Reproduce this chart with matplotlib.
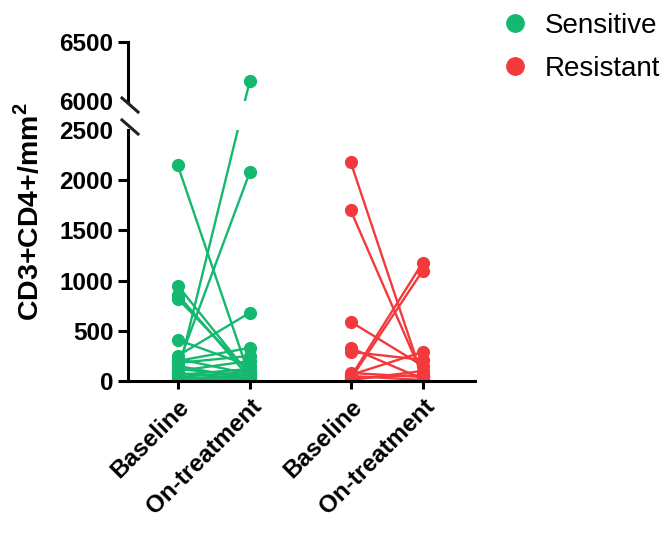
import matplotlib
matplotlib.use("Agg")
import matplotlib.pyplot as plt
from matplotlib.lines import Line2D

plt.rcParams['font.family'] = ['Liberation Sans', 'DejaVu Sans']
plt.rcParams['mathtext.fontset'] = 'custom'
plt.rcParams['mathtext.bf'] = 'Liberation Sans:bold'
plt.rcParams['mathtext.rm'] = 'Liberation Sans:bold'

categories = ["Baseline", "On-treatment", "Baseline", "On-treatment"]
xpos = [0, 1, 2.4, 3.4]

# paired values (baseline, on-treatment)
sens_base = [2150, 950, 860, 820, 410, 150, 60, 250, 200, 180, 120, 100, 80, 60, 40, 30, 20, 10, 150, 220]
sens_on = [40, 60, 30, 80, 150, 2080, 6170, 680, 330, 250, 50, 200, 20, 120, 90, 10, 60, 30, 20, 70]
res_base = [2180, 1700, 590, 330, 290, 40, 20, 60, 10, 30, 50, 80]
res_on = [30, 50, 150, 20, 210, 1180, 1100, 290, 100, 60, 10, 40]

green = '#14B86E'
red = '#F23A3D'

# broken axis: 0-2500 below, 6000-6500 above (upper part drawn a bit stretched)
LO_TOP = 2500
HI_START, HI_END = 6000, 6500
HI_OFFSET = 2789
HI_STRETCH = 1.174


def brk(v):
    if v <= LO_TOP:
        return v
    return HI_OFFSET + (v - HI_START) * HI_STRETCH


W, H = 669, 534
fig = plt.figure(figsize=(W / 100, H / 100), dpi=100)


def fx(px):
    return px / W


def fy(py):
    return 1 - py / H


left, right = 128, 475
ax_lo = fig.add_axes([fx(left), fy(381), fx(right - left), fy(130) - fy(381)])
ax_hi = fig.add_axes([fx(left), fy(101), fx(right - left), fy(42) - fy(101)])

for ax in (ax_lo, ax_hi):
    for b, o in zip(sens_base, sens_on):
        ax.plot([xpos[0], xpos[1]], [brk(b), brk(o)], color=green, lw=1.7, marker='o', ms=8.5)
    for b, o in zip(res_base, res_on):
        ax.plot([xpos[2], xpos[3]], [brk(b), brk(o)], color=red, lw=1.7, marker='o', ms=8.5)
    ax.set_xlim(-0.69, 4.125)
    for s in ('top', 'right'):
        ax.spines[s].set_visible(False)
    ax.spines['left'].set_linewidth(2.2)
    ax.tick_params(axis='y', length=7, width=2.2, labelsize=17.5)

ax_lo.set_ylim(0, LO_TOP)
lo_ticks = [0, 500, 1000, 1500, 2000, 2500]
ax_lo.set_yticks(lo_ticks)
ax_lo.set_yticklabels([str(t) for t in lo_ticks], fontweight='bold')
ax_lo.yaxis.get_major_ticks()[-1].tick1line.set_visible(False)
ax_lo.spines['bottom'].set_linewidth(2.2)
ax_lo.set_xticks(xpos)
ax_lo.set_xticklabels(categories, rotation=45, ha='right', rotation_mode='anchor',
                      fontsize=17.5, fontweight='bold')
ax_lo.tick_params(axis='x', length=6, width=2.2, pad=4)

hi_ticks = [HI_START, HI_END]
ax_hi.set_ylim(brk(HI_START), brk(HI_END))
ax_hi.set_yticks([brk(t) for t in hi_ticks])
ax_hi.set_yticklabels([str(t) for t in hi_ticks], fontweight='bold')
ax_hi.yaxis.get_major_ticks()[0].tick1line.set_visible(False)
ax_hi.spines['bottom'].set_visible(False)
ax_hi.set_xticks([])

# break marks
for cy in (105, 127):
    fig.add_artist(Line2D([fx(122), fx(138)], [fy(cy - 7), fy(cy + 7)],
                          transform=fig.transFigure, color='#222222', lw=2.2))

fig.text(fx(29), fy(212), r'CD3+CD4+/mm$^{\mathbf{2}}$', rotation=90,
         ha='center', va='center', fontsize=20.5, fontweight='bold')

handles = [Line2D([], [], marker='o', ls='', color=green, ms=12.5),
           Line2D([], [], marker='o', ls='', color=red, ms=12.5)]
fig.legend(handles, ['Sensitive', 'Resistant'], loc='upper left',
           bbox_to_anchor=(fx(473), fy(-12)), frameon=False, fontsize=20,
           handletextpad=0.5, labelspacing=0.6, handlelength=1.2)

fig.savefig('out.png', dpi=100)
